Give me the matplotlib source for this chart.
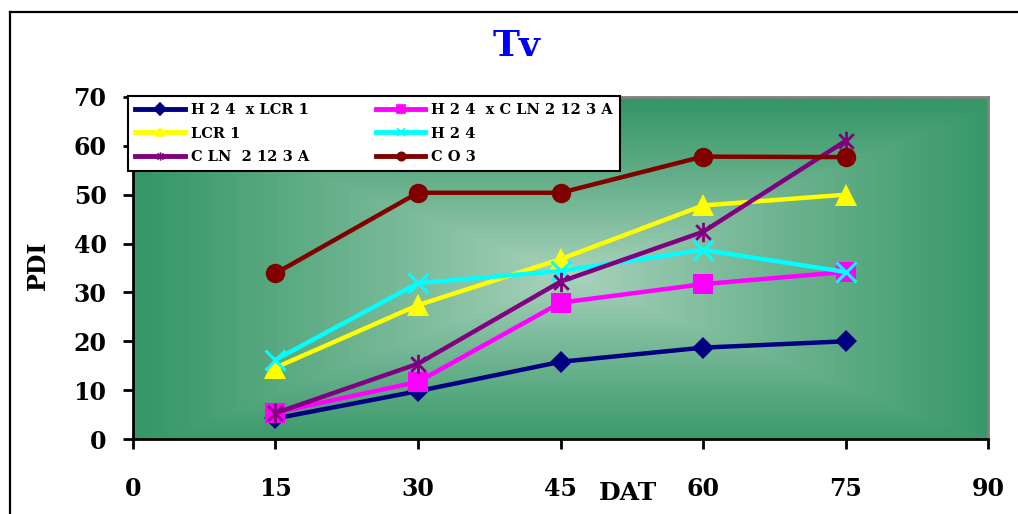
import numpy as np
import matplotlib
matplotlib.use("Agg")
import matplotlib.pyplot as plt
from matplotlib.path import Path
from matplotlib.lines import Line2D

# Days after transplanting and disease index per genotype
dat = [15, 30, 45, 60, 75]
h24_x_lcr1 = [4.2, 9.8, 15.8, 18.7, 20.0]
h24_x_cln2123a = [5.4, 11.7, 27.9, 31.7, 34.2]
lcr1 = [14.6, 27.4, 36.8, 47.8, 50.0]
h24 = [16.2, 31.9, 34.4, 38.7, 34.2]
cln2123a = [5.3, 15.4, 32.2, 42.4, 61.0]
co3 = [33.9, 50.4, 50.4, 57.8, 57.7]

labels = ["H 2 4  x LCR 1", "H 2 4  x C LN 2 12 3 A", "LCR 1", "H 2 4",
          "C LN  2 12 3 A", "C O 3"]
x_ticks = [0, 15, 30, 45, 60, 75, 90]
y_ticks = [0, 10, 20, 30, 40, 50, 60, 70]

SERIF = "DejaVu Serif"

# asterisk marker: an X with a vertical stroke
star = Path([(0, -1), (0, 1), (-0.75, -0.75), (0.75, 0.75), (-0.75, 0.75), (0.75, -0.75)],
            [Path.MOVETO, Path.LINETO, Path.MOVETO, Path.LINETO, Path.MOVETO, Path.LINETO])

styles = [
    dict(color="#000080", marker="D", ms=11, mew=0),
    dict(color="#FF00FF", marker="s", ms=14, mew=0),
    dict(color="#FFFF00", marker="^", ms=16, mew=0),
    dict(color="#00FFFF", marker="x", ms=14, mew=2.2),
    dict(color="#800080", marker=star, ms=14, mew=2.0),
    dict(color="#800000", marker="o", ms=14, mew=0),
]
series = [h24_x_lcr1, h24_x_cln2123a, lcr1, h24, cln2123a, co3]

fig = plt.figure(figsize=(10.18, 5.14), dpi=100)
fig.patch.set_facecolor("white")
ax = fig.add_axes([0.1306, 0.1459, 0.8400, 0.6654])

# rectangular centre-out gradient for the plot area
nx, ny = 400, 200
u = np.linspace(-1, 1, nx)
v = np.linspace(-1, 1, ny)
U, V = np.meshgrid(u, v)
d = np.clip(np.maximum(np.abs(U - 0.02), np.abs(V + 0.05)), 0, 1)
edge = np.array([54, 151, 103]) / 255
centre = np.array([172, 212, 190]) / 255
t = d ** 0.9
img = centre[None, None, :] * (1 - t[..., None]) + edge[None, None, :] * t[..., None]
ax.imshow(img, extent=[0, 90, 0, 70], aspect="auto", origin="lower", zorder=0,
          interpolation="bilinear")

for i, (vals, st) in enumerate(zip(series, styles)):
    ax.plot(dat, vals, color=st["color"], lw=3.2, marker=st["marker"], ms=st["ms"],
            mew=st["mew"], mec=st["color"], mfc=st["color"], zorder=3 + i,
            solid_capstyle="butt", clip_on=False)

ax.set_xlim(0, 90)
ax.set_ylim(0, 70)
ax.set_xticks(x_ticks)
ax.set_yticks(y_ticks)
ax.tick_params(axis="both", direction="out", length=7, width=2, color="black")
ax.tick_params(axis="x", pad=20)
ax.tick_params(axis="y", pad=12)
for lab in ax.get_xticklabels() + ax.get_yticklabels():
    lab.set_fontfamily(SERIF)
    lab.set_fontweight("bold")
    lab.set_fontsize(17)

for side in ("left", "bottom"):
    ax.spines[side].set_color("black")
    ax.spines[side].set_linewidth(2)
for side in ("top", "right"):
    ax.spines[side].set_color("#808080")
    ax.spines[side].set_linewidth(2)

# legend with short markers on long line segments
handles = []
for st in styles:
    handles.append(Line2D([0], [0], color=st["color"], lw=3.5, marker=st["marker"],
                          ms=6, mew=1.2, mec=st["color"], mfc=st["color"]))
order = [0, 2, 4, 1, 3, 5]
leg = ax.legend([handles[i] for i in order], [labels[i] for i in order], ncol=2,
                loc="upper left", bbox_to_anchor=(-0.006, 1.004),
                prop=dict(family=SERIF, weight="bold", size=10.5),
                frameon=True, fancybox=False, edgecolor="black", framealpha=1,
                handlelength=3.4, handletextpad=0.4, columnspacing=4.6,
                labelspacing=0.66, borderpad=0.5, borderaxespad=0)
leg.get_frame().set_linewidth(1.5)
leg.set_zorder(20)

fig.text(517 / 1018, 1 - 46 / 514, "Tv", color="#0000FF", fontsize=26,
         fontweight="bold", family=SERIF, ha="center", va="center")
fig.text(628 / 1018, 1 - 493 / 514, "DAT", color="black", fontsize=18,
         fontweight="bold", family=SERIF, ha="center", va="center")
fig.text(38 / 1018, 1 - 265 / 514, "PDI", color="black", fontsize=17,
         fontweight="bold", family=SERIF, ha="center", va="center", rotation=90)

# outer chart frame (left and top edges visible)
fig.add_artist(Line2D([10 / 1018, 10 / 1018], [-0.01, 1 - 12 / 514],
                      color="black", lw=1.6, transform=fig.transFigure))
fig.add_artist(Line2D([10 / 1018, 1.01], [1 - 12 / 514, 1 - 12 / 514],
                      color="black", lw=1.6, transform=fig.transFigure))

fig.savefig("out.png", dpi=100)
